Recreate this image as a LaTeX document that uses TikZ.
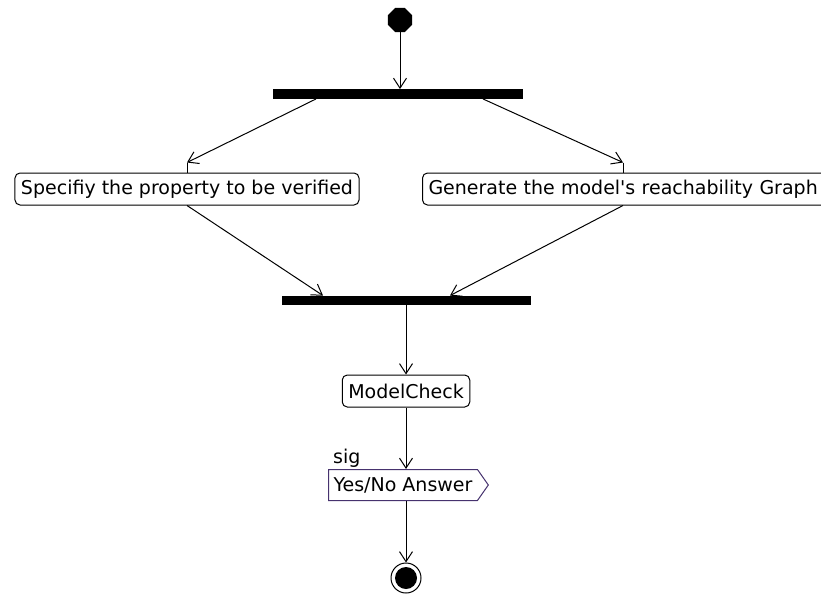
\documentclass[tikz,border=0pt]{standalone}
\usepackage{fontspec}
\setmainfont{DejaVu Sans}
\usepackage{xcolor}
\usepackage{tikz}
\usetikzlibrary{shapes.geometric,shapes.symbols,arrows.meta}

\definecolor{sigborder}{RGB}{70,50,110}

\begin{document}
\begin{tikzpicture}[
	x=1pt, y=-1pt,
	font=\fontsize{19}{21}\selectfont,
	action/.style={draw, rounded corners=5pt, line width=1pt, minimum height=32pt, inner xsep=6pt, inner ysep=0pt, fill=white},
	bar/.style={fill=black, inner sep=0pt, minimum height=9.5pt},
	flow/.style={draw, line width=1pt, -{Straight Barb[length=10pt,width=13pt,line width=1pt]}},
	plain/.style={draw, line width=1pt}
	]
	\useasboundingbox (0,0) rectangle (821,595);
	\node[regular polygon, regular polygon sides=8, fill=black, minimum size=26pt, inner sep=0pt] (start) at (400,20) {};
	\node[bar, minimum width=250pt] (fork1) at (398,94) {};
	\node[action] (spec) at (187,189) {Specifiy the property to be verified};
	\node[action, anchor=west, text width=394pt, align=left] (graph) at (422,189) {Generate the model\textquotesingle s reachability Graph};
	\node[bar, minimum width=249pt] (fork2) at (406.5,300.5) {};
	\node[action] (check) at (406,391) {ModelCheck};
	\node[signal, signal to=east, signal pointer angle=110, draw=sigborder, line width=1pt, minimum height=31pt, inner xsep=5pt, inner ysep=0pt, fill=white] (answer) at (403,485) {Yes/No Answer};
	\node[anchor=south west, inner sep=0pt] (sig) at (333,468) {sig};
	\node[circle, draw, line width=1pt, minimum size=30pt, inner sep=0pt] (stop) at (406,578) {};
	\node[circle, fill=black, minimum size=22pt, inner sep=0pt] at (stop) {};

	\coordinate (specin) at ([yshift=10pt]spec.north);
	\coordinate (graphin) at ([yshift=10pt]graph.north -| 623,0);

	\draw[flow] (start) -- (fork1.north -| start);
	\draw[flow] (fork1.south -| 316,0) -- (specin);
	\draw[plain] (specin) -- (spec.north);
	\draw[flow] (fork1.south -| 483,0) -- (graphin);
	\draw[plain] (graphin) -- (graph.north -| graphin);
	\draw[flow] (spec.south) -- (fork2.north -| 323,0);
	\draw[flow] (graph.south -| graphin) -- (fork2.north -| 450,0);
	\draw[flow] (fork2.south -| check) -- (check.north);
	\draw[flow] (check.south) -- (answer.north -| check);
	\draw[flow] (answer.south -| check) -- (stop.north);
\end{tikzpicture}
\end{document}
